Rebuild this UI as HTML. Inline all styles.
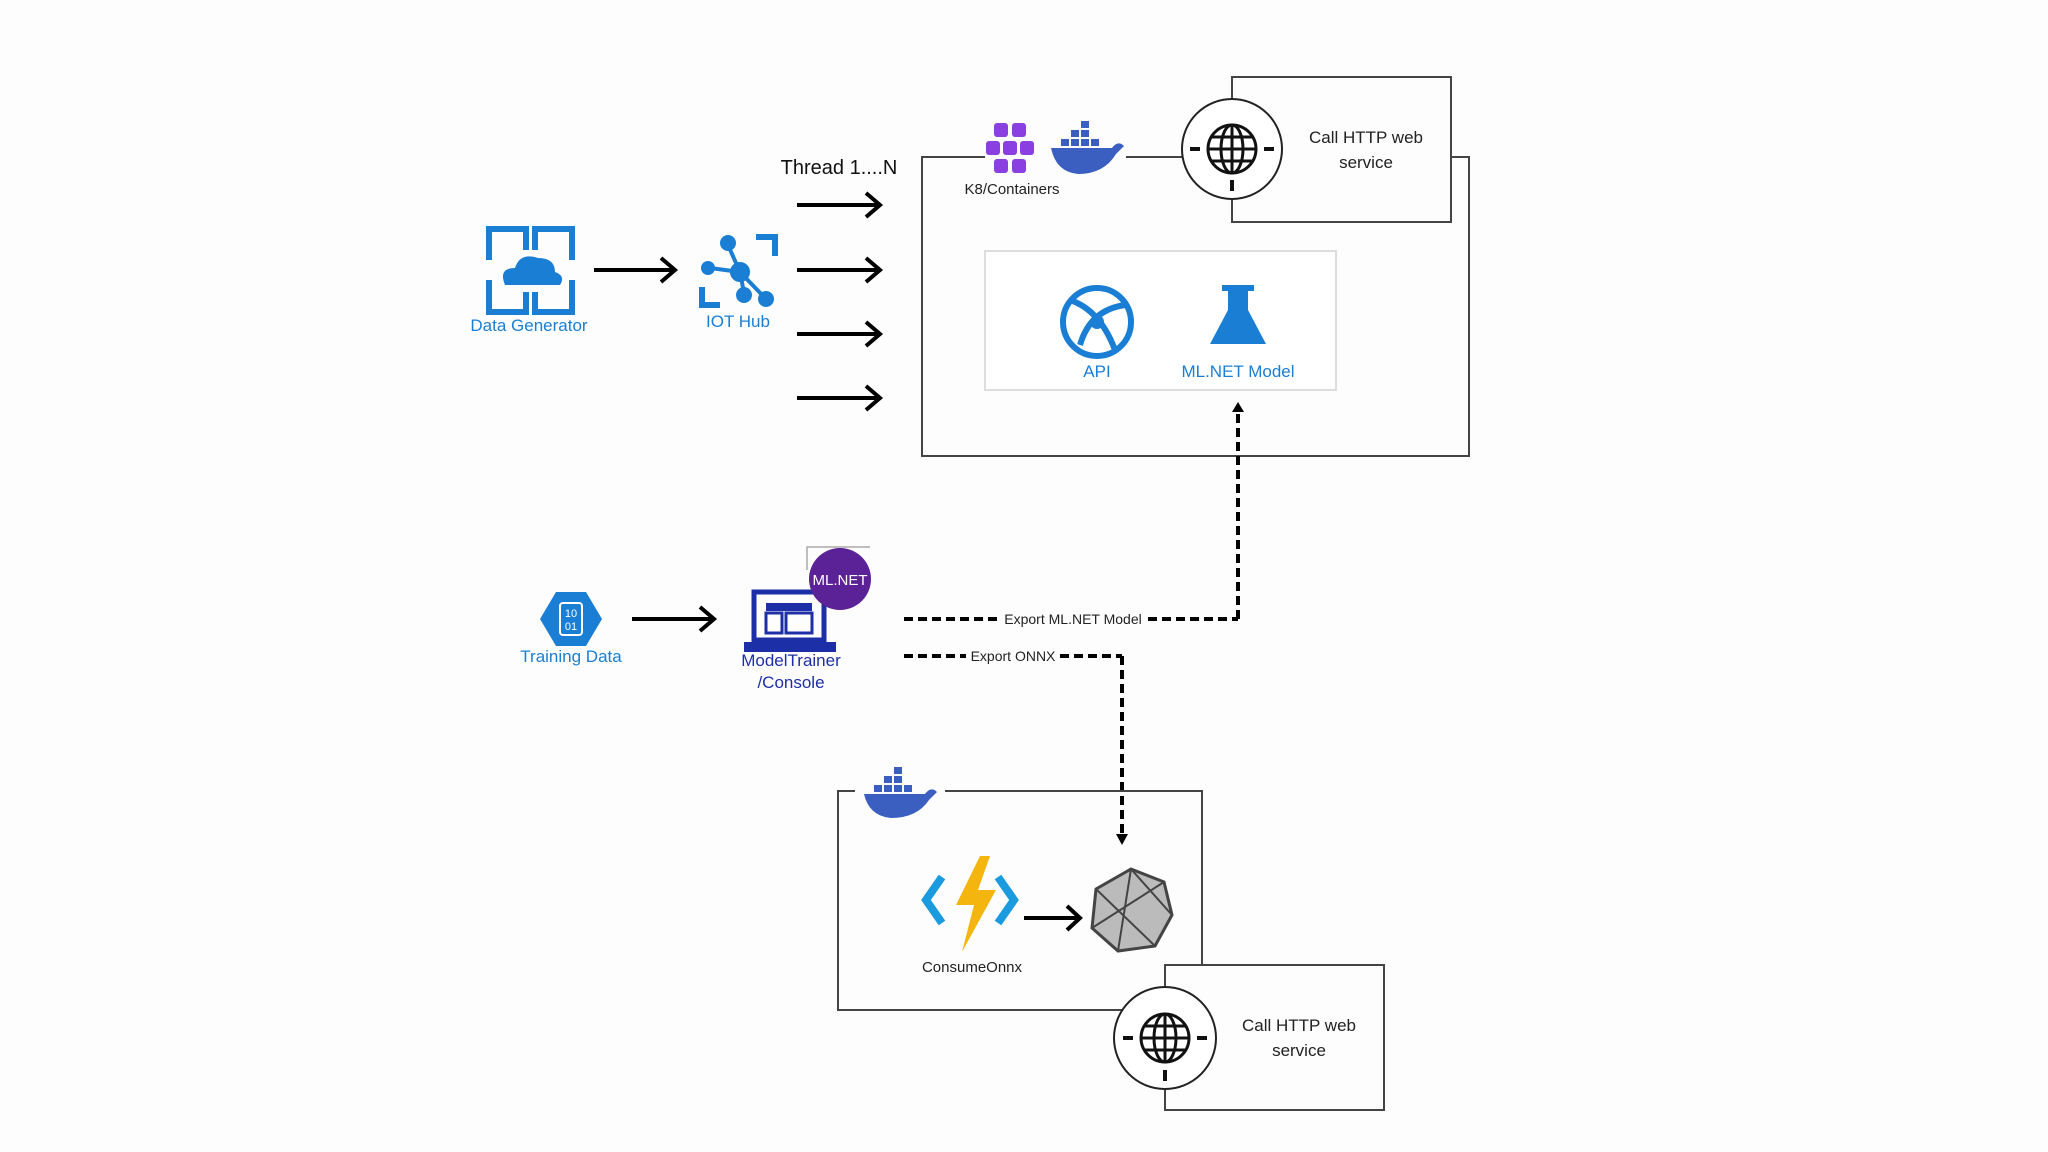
<!DOCTYPE html>
<html><head><meta charset="utf-8"><style>
html,body{margin:0;padding:0;background:#fdfdfe;}
svg{display:block}
text{font-family:"Liberation Sans",sans-serif;}
</style></head><body>
<svg width="2048" height="1152" viewBox="0 0 2048 1152" xmlns="http://www.w3.org/2000/svg">
<defs>
<marker id="ah" markerWidth="10" markerHeight="10" refX="5" refY="5" orient="auto" markerUnits="userSpaceOnUse">
<path d="M0,0 L6,5 L0,10" fill="none" stroke="#000" stroke-width="0"/></marker>
</defs>
<rect width="2048" height="1152" fill="#fdfdfe"/>

<!-- main container -->
<path d="M985,157 L922,157 L922,456 L1469,456 L1469,157 L1451,157" fill="none" stroke="#444" stroke-width="2"/>
<line x1="1126" y1="157" x2="1182" y2="157" stroke="#444" stroke-width="2"/>
<!-- HTTP box top -->
<rect x="1232" y="77" width="219" height="145" fill="#fdfdfe" stroke="#444" stroke-width="2"/>
<circle cx="1232" cy="149" r="50" fill="#fff" stroke="#222" stroke-width="2"/>
<g stroke="#111" stroke-width="3" fill="none">
<circle cx="1232" cy="149" r="24"/><ellipse cx="1232" cy="149" rx="11" ry="24"/>
<line x1="1232" y1="125" x2="1232" y2="173"/><line x1="1208" y1="149" x2="1256" y2="149"/>
<line x1="1211" y1="137" x2="1253" y2="137"/><line x1="1211" y1="161" x2="1253" y2="161"/>
<line x1="1190" y1="149" x2="1200" y2="149" stroke-width="4"/><line x1="1264" y1="149" x2="1274" y2="149" stroke-width="4"/>
<line x1="1232" y1="180" x2="1232" y2="191" stroke-width="4"/></g>
<text x="1366" y="143" font-size="17" text-anchor="middle" fill="#222">Call HTTP web</text>
<text x="1366" y="168" font-size="17" text-anchor="middle" fill="#222">service</text>

<!-- K8 icon -->
<g fill="#8a3fe0">
<rect x="994" y="123" width="14" height="14" rx="3"/><rect x="1012" y="123" width="14" height="14" rx="3"/>
<rect x="986" y="141" width="14" height="14" rx="3"/><rect x="1003" y="141" width="14" height="14" rx="3"/><rect x="1020" y="141" width="14" height="14" rx="3"/>
<rect x="994" y="159" width="14" height="14" rx="3"/><rect x="1012" y="159" width="14" height="14" rx="3"/>
</g>
<text x="1012" y="194" font-size="15" text-anchor="middle" fill="#222">K8/Containers</text>
<!-- docker top -->
<g fill="#3b5fc0">
<path d="M1051,148 L1112,148 Q1118,140 1124,146 Q1118,152 1116,154 Q1104,174 1078,174 Q1056,172 1051,148 Z"/>
<rect x="1061" y="139" width="8" height="7"/><rect x="1071" y="139" width="8" height="7"/><rect x="1081" y="139" width="8" height="7"/><rect x="1091" y="139" width="8" height="7"/>
<rect x="1071" y="130" width="8" height="7"/><rect x="1081" y="130" width="8" height="7"/><rect x="1081" y="121" width="8" height="7"/>
</g>

<text x="839" y="174" font-size="20" text-anchor="middle" fill="#111">Thread 1....N</text>
<g stroke="#000" stroke-width="4" fill="none">
<line x1="797" y1="205" x2="880" y2="205"/><path d="M866,193 L880,205 L866,217"/>
<line x1="797" y1="270" x2="880" y2="270"/><path d="M866,258 L880,270 L866,282"/>
<line x1="797" y1="334" x2="880" y2="334"/><path d="M866,322 L880,334 L866,346"/>
<line x1="797" y1="398" x2="880" y2="398"/><path d="M866,386 L880,398 L866,410"/>
<line x1="594" y1="270" x2="675" y2="270"/><path d="M661,258 L675,270 L661,282"/>
<line x1="632" y1="619" x2="714" y2="619"/><path d="M700,607 L714,619 L700,631"/>
<line x1="1024" y1="918" x2="1080" y2="918"/><path d="M1067,906 L1080,918 L1067,930"/>
</g>

<!-- inner box -->
<rect x="985" y="251" width="351" height="139" fill="#fff" stroke="#ddd" stroke-width="2"/>
<g stroke="#1a7fd4" stroke-width="6" fill="none">
<circle cx="1097" cy="322" r="34"/>
<path d="M1070,300 Q1100,310 1115,350"/><path d="M1080,345 Q1090,310 1125,305"/>
</g>
<circle cx="1097" cy="322" r="7" fill="#1a7fd4"/>
<text x="1097" y="377" font-size="17" text-anchor="middle" fill="#1a7fd4">API</text>
<path d="M1228,290 L1248,290 L1248,310 L1266,344 L1210,344 L1228,310 Z" fill="#1a7fd4"/>
<rect x="1222" y="285" width="32" height="6" fill="#1a7fd4"/>
<text x="1238" y="377" font-size="17" text-anchor="middle" fill="#1a7fd4">ML.NET Model</text>

<!-- data generator -->
<g fill="none" stroke="#1a7fd4" stroke-width="6">
<path d="M489,260 L489,229 L526,229 L526,250"/><path d="M535,250 L535,229 L572,229 L572,260"/>
<path d="M489,280 L489,312 L526,312 L526,292"/><path d="M535,292 L535,312 L572,312 L572,280"/>
</g>
<path d="M505,285 Q498,268 515,268 Q520,252 538,258 Q555,258 555,272 Q566,276 560,285 Z" fill="#1a7fd4"/>
<text x="529" y="331" font-size="17" text-anchor="middle" fill="#1a7fd4">Data Generator</text>

<!-- IoT hub -->
<g stroke="#1a7fd4" stroke-width="4" fill="#1a7fd4">
<line x1="740" y1="272" x2="728" y2="245"/><line x1="740" y1="272" x2="710" y2="268"/><line x1="740" y1="272" x2="744" y2="293"/><line x1="740" y1="272" x2="765" y2="298"/>
<circle cx="740" cy="272" r="8"/><circle cx="728" cy="243" r="6"/><circle cx="708" cy="268" r="5"/><circle cx="744" cy="295" r="6"/><circle cx="766" cy="299" r="6"/>
</g>
<path d="M756,234 L778,234 L778,256 L772,256 L772,240 L756,240 Z M699,287 L705,287 L705,302 L720,302 L720,308 L699,308 Z" fill="#1a7fd4"/>
<text x="738" y="327" font-size="17" text-anchor="middle" fill="#1a7fd4">IOT Hub</text>

<!-- training data -->
<polygon points="556,592 586,592 602,619 586,646 556,646 540,619" fill="#1a7fd4"/>
<rect x="560" y="603" width="22" height="32" rx="3" fill="none" stroke="#fff" stroke-width="2"/>
<text x="571" y="617" font-size="11" text-anchor="middle" fill="#fff">10</text>
<text x="571" y="630" font-size="11" text-anchor="middle" fill="#fff">01</text>
<text x="571" y="662" font-size="17" text-anchor="middle" fill="#1a7fd4">Training Data</text>

<!-- laptop -->
<path d="M807,570 L807,547 L870,547" fill="none" stroke="#aaa" stroke-width="1.5"/>
<rect x="754" y="592" width="70" height="48" fill="none" stroke="#1d2fa6" stroke-width="5"/>
<rect x="766" y="603" width="46" height="8" fill="#1d2fa6"/>
<rect x="766" y="613" width="16" height="20" fill="none" stroke="#1d2fa6" stroke-width="3"/>
<rect x="786" y="613" width="26" height="20" fill="none" stroke="#1d2fa6" stroke-width="3"/>
<path d="M744,642 L836,642 L836,652 L744,652 Z" fill="#1d2fa6"/>
<circle cx="840" cy="579" r="31" fill="#5b2196"/>
<text x="840" y="585" font-size="15" text-anchor="middle" fill="#fff">ML.NET</text>
<text x="791" y="666" font-size="17" text-anchor="middle" fill="#1d2fa6">ModelTrainer</text>
<text x="791" y="688" font-size="17" text-anchor="middle" fill="#1d2fa6">/Console</text>

<!-- dashed connectors -->
<g stroke="#000" stroke-width="4" stroke-dasharray="9,5" fill="none">
<line x1="904" y1="619" x2="998" y2="619"/><line x1="1148" y1="619" x2="1238" y2="619"/>
<line x1="1238" y1="619" x2="1238" y2="412"/>
<line x1="904" y1="656" x2="966" y2="656"/><line x1="1060" y1="656" x2="1122" y2="656"/>
<line x1="1122" y1="656" x2="1122" y2="836"/>
</g>
<path d="M1232,412 L1238,402 L1244,412 Z" fill="#000"/>
<path d="M1116,834 L1122,845 L1128,834 Z" fill="#000"/>
<text x="1073" y="624" font-size="14" text-anchor="middle" fill="#222">Export ML.NET Model</text>
<text x="1013" y="661" font-size="14" text-anchor="middle" fill="#222">Export ONNX</text>

<!-- bottom container -->
<rect x="838" y="791" width="364" height="219" fill="none" stroke="#444" stroke-width="2"/>
<rect x="855" y="770" width="90" height="30" fill="#fdfdfe"/>
<g fill="#3b5fc0">
<path d="M864,794 L925,794 Q931,786 937,792 Q931,798 929,800 Q917,818 891,818 Q869,816 864,794 Z"/>
<rect x="874" y="785" width="8" height="7"/><rect x="884" y="785" width="8" height="7"/><rect x="894" y="785" width="8" height="7"/><rect x="904" y="785" width="8" height="7"/>
<rect x="884" y="776" width="8" height="7"/><rect x="894" y="776" width="8" height="7"/><rect x="894" y="767" width="8" height="7"/>
</g>
<!-- function icon -->
<path d="M942,877 L926,900 L942,923" fill="none" stroke="#1a9be0" stroke-width="8"/>
<path d="M998,877 L1014,900 L998,923" fill="none" stroke="#1a9be0" stroke-width="8"/>
<path d="M980,856 L956,905 L974,905 L962,952 L996,890 L978,890 L990,856 Z" fill="#f5b50f"/>
<text x="972" y="972" font-size="15" text-anchor="middle" fill="#222">ConsumeOnnx</text>
<!-- onnx -->
<polygon points="1131,869 1164,882 1172,915 1155,946 1118,951 1092,928 1096,889" fill="#bbb" stroke="#444" stroke-width="3"/>
<g stroke="#444" stroke-width="2"><line x1="1131" y1="869" x2="1118" y2="951"/><line x1="1096" y1="889" x2="1155" y2="946"/><line x1="1164" y1="882" x2="1092" y2="928"/><line x1="1131" y1="869" x2="1172" y2="915"/></g>

<!-- HTTP box bottom -->
<rect x="1165" y="965" width="219" height="145" fill="#fdfdfe" stroke="#444" stroke-width="2"/>
<circle cx="1165" cy="1038" r="51" fill="#fff" stroke="#222" stroke-width="2"/>
<g stroke="#111" stroke-width="3" fill="none">
<circle cx="1165" cy="1038" r="24"/><ellipse cx="1165" cy="1038" rx="11" ry="24"/>
<line x1="1165" y1="1014" x2="1165" y2="1062"/><line x1="1141" y1="1038" x2="1189" y2="1038"/>
<line x1="1144" y1="1026" x2="1186" y2="1026"/><line x1="1144" y1="1050" x2="1186" y2="1050"/>
<line x1="1123" y1="1038" x2="1133" y2="1038" stroke-width="4"/><line x1="1197" y1="1038" x2="1207" y2="1038" stroke-width="4"/>
<line x1="1165" y1="1070" x2="1165" y2="1081" stroke-width="4"/></g>
<text x="1299" y="1031" font-size="17" text-anchor="middle" fill="#222">Call HTTP web</text>
<text x="1299" y="1056" font-size="17" text-anchor="middle" fill="#222">service</text>
</svg>
</body></html>
